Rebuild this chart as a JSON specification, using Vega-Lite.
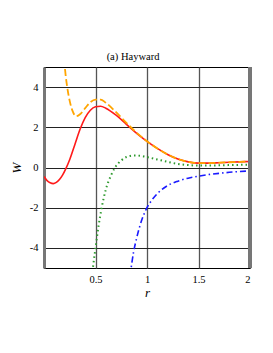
{
  "$schema": "https://vega.github.io/schema/vega-lite/v6.json",
  "width": 206,
  "height": 201,
  "autosize": {"type": "none"},
  "padding": {"left": 44, "top": 67, "right": 23, "bottom": 85},
  "background": "white",
  "title": {"text": "(a) Hayward", "font": "Liberation Serif", "fontSize": 10.5, "fontWeight": "normal", "color": "black", "offset": 3, "anchor": "middle", "dx": -14},
  "config": {
    "view": {"stroke": "black", "strokeWidth": 1},
    "axis": {"labelFont": "Liberation Serif", "labelFontSize": 10.5, "labelColor": "black", "titleFont": "Liberation Serif", "titleFontSize": 13, "titleFontStyle": "italic", "titleFontWeight": "normal", "titleColor": "black", "ticks": false, "gridColor": "#222222", "gridOpacity": 1, "gridWidth": 1}
  },
  "data": {"values": [
    {"r": 0.0, "W": -0.45, "s": "red"},
    {"r": 0.03, "W": -0.65, "s": "red"},
    {"r": 0.06, "W": -0.76, "s": "red"},
    {"r": 0.09, "W": -0.8, "s": "red"},
    {"r": 0.12, "W": -0.74, "s": "red"},
    {"r": 0.15, "W": -0.6, "s": "red"},
    {"r": 0.18, "W": -0.38, "s": "red"},
    {"r": 0.21, "W": -0.08, "s": "red"},
    {"r": 0.25, "W": 0.4, "s": "red"},
    {"r": 0.3, "W": 1.15, "s": "red"},
    {"r": 0.35, "W": 1.9, "s": "red"},
    {"r": 0.4, "W": 2.48, "s": "red"},
    {"r": 0.45, "W": 2.85, "s": "red"},
    {"r": 0.5, "W": 3.02, "s": "red"},
    {"r": 0.55, "W": 3.05, "s": "red"},
    {"r": 0.6, "W": 2.95, "s": "red"},
    {"r": 0.7, "W": 2.6, "s": "red"},
    {"r": 0.8, "W": 2.15, "s": "red"},
    {"r": 0.9, "W": 1.7, "s": "red"},
    {"r": 1.0, "W": 1.3, "s": "red"},
    {"r": 1.1, "W": 0.95, "s": "red"},
    {"r": 1.2, "W": 0.65, "s": "red"},
    {"r": 1.3, "W": 0.42, "s": "red"},
    {"r": 1.4, "W": 0.28, "s": "red"},
    {"r": 1.5, "W": 0.22, "s": "red"},
    {"r": 1.6, "W": 0.22, "s": "red"},
    {"r": 1.7, "W": 0.24, "s": "red"},
    {"r": 1.8, "W": 0.26, "s": "red"},
    {"r": 1.9, "W": 0.28, "s": "red"},
    {"r": 2.0, "W": 0.3, "s": "red"},

    {"r": 0.195, "W": 5.4, "s": "orange"},
    {"r": 0.21, "W": 4.6, "s": "orange"},
    {"r": 0.23, "W": 3.85, "s": "orange"},
    {"r": 0.25, "W": 3.3, "s": "orange"},
    {"r": 0.28, "W": 2.78, "s": "orange"},
    {"r": 0.31, "W": 2.55, "s": "orange"},
    {"r": 0.35, "W": 2.65, "s": "orange"},
    {"r": 0.4, "W": 2.95, "s": "orange"},
    {"r": 0.45, "W": 3.25, "s": "orange"},
    {"r": 0.5, "W": 3.38, "s": "orange"},
    {"r": 0.55, "W": 3.38, "s": "orange"},
    {"r": 0.6, "W": 3.22, "s": "orange"},
    {"r": 0.7, "W": 2.75, "s": "orange"},
    {"r": 0.8, "W": 2.22, "s": "orange"},
    {"r": 0.9, "W": 1.73, "s": "orange"},
    {"r": 1.0, "W": 1.31, "s": "orange"},
    {"r": 1.1, "W": 0.95, "s": "orange"},
    {"r": 1.2, "W": 0.65, "s": "orange"},
    {"r": 1.3, "W": 0.42, "s": "orange"},
    {"r": 1.4, "W": 0.28, "s": "orange"},
    {"r": 1.5, "W": 0.22, "s": "orange"},
    {"r": 1.6, "W": 0.22, "s": "orange"},
    {"r": 1.7, "W": 0.24, "s": "orange"},
    {"r": 1.8, "W": 0.26, "s": "orange"},
    {"r": 1.9, "W": 0.28, "s": "orange"},
    {"r": 2.0, "W": 0.3, "s": "orange"},

    {"r": 0.465, "W": -5.4, "s": "green"},
    {"r": 0.5, "W": -4.0, "s": "green"},
    {"r": 0.53, "W": -2.9, "s": "green"},
    {"r": 0.56, "W": -2.0, "s": "green"},
    {"r": 0.6, "W": -1.1, "s": "green"},
    {"r": 0.65, "W": -0.4, "s": "green"},
    {"r": 0.69, "W": 0.0, "s": "green"},
    {"r": 0.75, "W": 0.35, "s": "green"},
    {"r": 0.8, "W": 0.52, "s": "green"},
    {"r": 0.88, "W": 0.6, "s": "green"},
    {"r": 0.95, "W": 0.57, "s": "green"},
    {"r": 1.0, "W": 0.52, "s": "green"},
    {"r": 1.1, "W": 0.4, "s": "green"},
    {"r": 1.2, "W": 0.28, "s": "green"},
    {"r": 1.3, "W": 0.18, "s": "green"},
    {"r": 1.4, "W": 0.12, "s": "green"},
    {"r": 1.5, "W": 0.1, "s": "green"},
    {"r": 1.6, "W": 0.1, "s": "green"},
    {"r": 1.8, "W": 0.12, "s": "green"},
    {"r": 2.0, "W": 0.14, "s": "green"},

    {"r": 0.835, "W": -5.4, "s": "blue"},
    {"r": 0.87, "W": -4.2, "s": "blue"},
    {"r": 0.9, "W": -3.5, "s": "blue"},
    {"r": 0.95, "W": -2.6, "s": "blue"},
    {"r": 1.0, "W": -2.0, "s": "blue"},
    {"r": 1.05, "W": -1.6, "s": "blue"},
    {"r": 1.1, "W": -1.3, "s": "blue"},
    {"r": 1.2, "W": -0.9, "s": "blue"},
    {"r": 1.3, "W": -0.68, "s": "blue"},
    {"r": 1.4, "W": -0.53, "s": "blue"},
    {"r": 1.5, "W": -0.43, "s": "blue"},
    {"r": 1.6, "W": -0.35, "s": "blue"},
    {"r": 1.7, "W": -0.29, "s": "blue"},
    {"r": 1.8, "W": -0.24, "s": "blue"},
    {"r": 1.9, "W": -0.2, "s": "blue"},
    {"r": 2.0, "W": -0.17, "s": "blue"}
  ]},
  "layer": [
    {
      "transform": [{"filter": "datum.s === 'red'"}],
      "mark": {"type": "line", "color": "#ff1a1a", "strokeWidth": 1.6, "clip": true, "interpolate": "monotone"},
      "encoding": {
        "x": {"field": "r", "type": "quantitative", "scale": {"domain": [0, 2], "nice": false}, "axis": {"values": [0.5, 1, 1.5, 2], "format": "~g", "title": "r", "grid": true, "gridColor": "#555555", "gridWidth": 1.3, "domain": false, "labelPadding": 6, "titlePadding": 2}},
        "y": {"field": "W", "type": "quantitative", "scale": {"domain": [-5, 5], "nice": false}, "axis": {"values": [-4, -2, 0, 2, 4], "title": "W", "grid": true, "domainColor": "#777777", "domainWidth": 3, "labelPadding": 6, "titlePadding": 6, "labelExpr": "replace(datum.label, '\u2212', '-')"}}
      }
    },
    {
      "transform": [{"filter": "datum.s === 'green'"}],
      "mark": {"type": "line", "color": "#2e9a2e", "strokeWidth": 2, "strokeDash": [1.5, 3], "clip": true, "interpolate": "monotone"},
      "encoding": {
        "x": {"field": "r", "type": "quantitative"},
        "y": {"field": "W", "type": "quantitative"}
      }
    },
    {
      "transform": [{"filter": "datum.s === 'blue'"}],
      "mark": {"type": "line", "color": "#1a1aff", "strokeWidth": 1.6, "strokeDash": [6, 3, 1.5, 3], "clip": true, "interpolate": "monotone"},
      "encoding": {
        "x": {"field": "r", "type": "quantitative"},
        "y": {"field": "W", "type": "quantitative"}
      }
    },
    {
      "transform": [{"filter": "datum.s === 'orange'"}],
      "mark": {"type": "line", "color": "#ffa500", "strokeWidth": 1.8, "strokeDash": [7, 3], "clip": true, "interpolate": "monotone"},
      "encoding": {
        "x": {"field": "r", "type": "quantitative"},
        "y": {"field": "W", "type": "quantitative"}
      }
    },
    {
      "mark": {"type": "rule", "color": "#777777", "strokeWidth": 3},
      "encoding": {
        "x": {"datum": 2, "type": "quantitative"}
      }
    }
  ]
}
